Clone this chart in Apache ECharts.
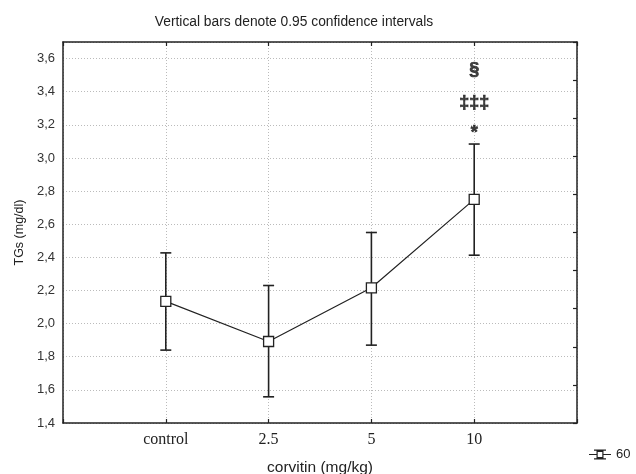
<!DOCTYPE html>
<html>
<head>
<meta charset="utf-8">
<script src="https://cdn.jsdelivr.net/npm/echarts@6/dist/echarts.min.js"></script>
<style>html,body{margin:0;padding:0;background:#fff}#c{width:636px;height:474px}</style>
</head>
<body>
<div id="c"></div>
<script>
var categories = ['control', '2.5', '5', '10'];
var means = [2.134, 1.892, 2.216, 2.75];
var ciLow = [1.84, 1.558, 1.87, 2.413];
var ciHigh = [2.427, 2.23, 2.55, 3.084];
var annotationTexts = ['*', '\u2021\u2021\u2021', '\u00a7'];
var annotationValues = [3.15, 3.33, 3.53];
var annotationCategory = '10';
var seriesName = '60';
var titleText = 'Vertical bars denote 0.95 confidence intervals';

var ink = '#222';
var meanData = means.map(function (m, i) { return [i + 1, m]; });
var errData = means.map(function (m, i) { return [i + 1, ciLow[i], ciHigh[i]]; });
var annXIdx = categories.indexOf(annotationCategory) + 1;
var annData = annotationTexts.map(function (t, i) { return { name: t, value: [annXIdx, annotationValues[i]] }; });

var legendIcon = 'path://M5 0H17V1.2H5Z M5 8.8H17V10H5Z M0 4.4H7.5V5.6H0Z M14.5 4.4H22V5.6H14.5Z M7.5 1.2H14.5V8.8H7.5Z M8.7 2.4V7.6H13.3V2.4Z';

var chart = echarts.init(document.getElementById('c'), null, { renderer: 'canvas' });
chart.setOption({
  animation: false,
  backgroundColor: '#fff',
  title: {
    text: titleText, left: 289, top: 10, textAlign: 'center',
    textStyle: { fontFamily: 'Liberation Sans, Arial', fontSize: 13.8, fontWeight: 'normal', color: '#222' }
  },
  legend: {
    data: [{ name: seriesName, icon: legendIcon }],
    left: 589, top: 448, itemWidth: 22, itemHeight: 10, itemGap: 4, padding: 0,
    textStyle: { fontFamily: 'Liberation Sans, Arial', fontSize: 13, color: '#222', padding: [0, 0, 0, 0] },
    itemStyle: { color: ink, borderWidth: 0 }
  },
  grid: { left: 63, right: 59, top: 42, bottom: 51, outerBoundsMode: 'none', containLabel: false },
  xAxis: [{
    type: 'value', min: 0, max: 5, interval: 1,
    name: 'corvitin (mg/kg)', nameLocation: 'middle', nameGap: 37,
    nameTextStyle: { fontFamily: 'Liberation Sans, Arial', fontSize: 15.5, color: '#222' },
    axisLine: { show: true, onZero: false, lineStyle: { color: ink, width: 1.5 } },
    axisTick: { show: true, inside: true, length: 4, lineStyle: { color: ink, width: 1.2 } },
    axisLabel: {
      margin: 9, fontFamily: 'Liberation Serif, Times New Roman', fontSize: 16, color: '#222',
      formatter: function (v) { return categories[Math.round(v) - 1] || ''; }
    },
    splitLine: { show: true, lineStyle: { color: '#bbb', type: [1, 2], width: 1 } }
  }, {
    type: 'value', min: 0, max: 5, interval: 1, position: 'top',
    axisLine: { show: true, onZero: false, lineStyle: { color: ink, width: 1.5 } },
    axisTick: { show: true, inside: true, length: 4, lineStyle: { color: ink, width: 1.2 } },
    axisLabel: { show: false }, splitLine: { show: false }
  }],
  yAxis: [{
    type: 'value', min: 1.4, max: 3.7, interval: 0.2,
    name: 'TGs (mg/dl)', nameLocation: 'middle', nameGap: 37, nameRotate: 90,
    nameTextStyle: { fontFamily: 'Liberation Sans, Arial', fontSize: 12.5, color: '#222' },
    axisLine: { show: true, onZero: false, lineStyle: { color: ink, width: 1.5 } },
    axisTick: { show: false },
    axisLabel: {
      margin: 8, fontFamily: 'Liberation Sans, Arial', fontSize: 13, color: '#333',
      formatter: function (v) {
        if (Math.abs(v * 5 - Math.round(v * 5)) > 1e-6) return '';
        return v.toFixed(1).replace('.', ',');
      }
    },
    splitLine: { show: true, lineStyle: { color: '#bbb', type: [1, 2], width: 1 } }
  }, {
    type: 'value', min: 0, max: 10, interval: 1, position: 'right',
    axisLine: { show: true, onZero: false, lineStyle: { color: ink, width: 1.5 } },
    axisTick: { show: true, inside: true, length: 4, lineStyle: { color: ink, width: 1.2 } },
    axisLabel: { show: false }, splitLine: { show: false }
  }],
  series: [{
    type: 'custom', name: 'ci', xAxisIndex: 0, yAxisIndex: 0, z: 2,
    data: errData,
    renderItem: function (params, api) {
      var x = api.value(0);
      var lo = api.coord([x, api.value(1)]);
      var hi = api.coord([x, api.value(2)]);
      var hw = 5.5;
      var st = { stroke: ink, lineWidth: 1.6 };
      return { type: 'group', children: [
        { type: 'line', shape: { x1: lo[0], y1: lo[1], x2: hi[0], y2: hi[1] }, style: st },
        { type: 'line', shape: { x1: lo[0] - hw, y1: lo[1], x2: lo[0] + hw, y2: lo[1] }, style: st },
        { type: 'line', shape: { x1: hi[0] - hw, y1: hi[1], x2: hi[0] + hw, y2: hi[1] }, style: st }
      ] };
    }
  }, {
    type: 'line', name: seriesName, xAxisIndex: 0, yAxisIndex: 0, z: 3,
    data: meanData,
    symbol: 'rect', symbolSize: 10, showAllSymbol: true,
    lineStyle: { color: ink, width: 1.2 },
    itemStyle: { color: '#fff', borderColor: ink, borderWidth: 1.3 }
  }, {
    type: 'scatter', name: 'ann', xAxisIndex: 0, yAxisIndex: 0, z: 4,
    data: annData, symbolSize: 1, itemStyle: { color: 'rgba(0,0,0,0)' },
    label: {
      show: true, position: 'inside', formatter: '{b}',
      fontFamily: 'Liberation Sans, Arial', fontWeight: 'bold', fontSize: 18, color: '#111',
      textBorderColor: '#111', textBorderWidth: 0.7
    }
  }]
});
</script>
</body>
</html>
